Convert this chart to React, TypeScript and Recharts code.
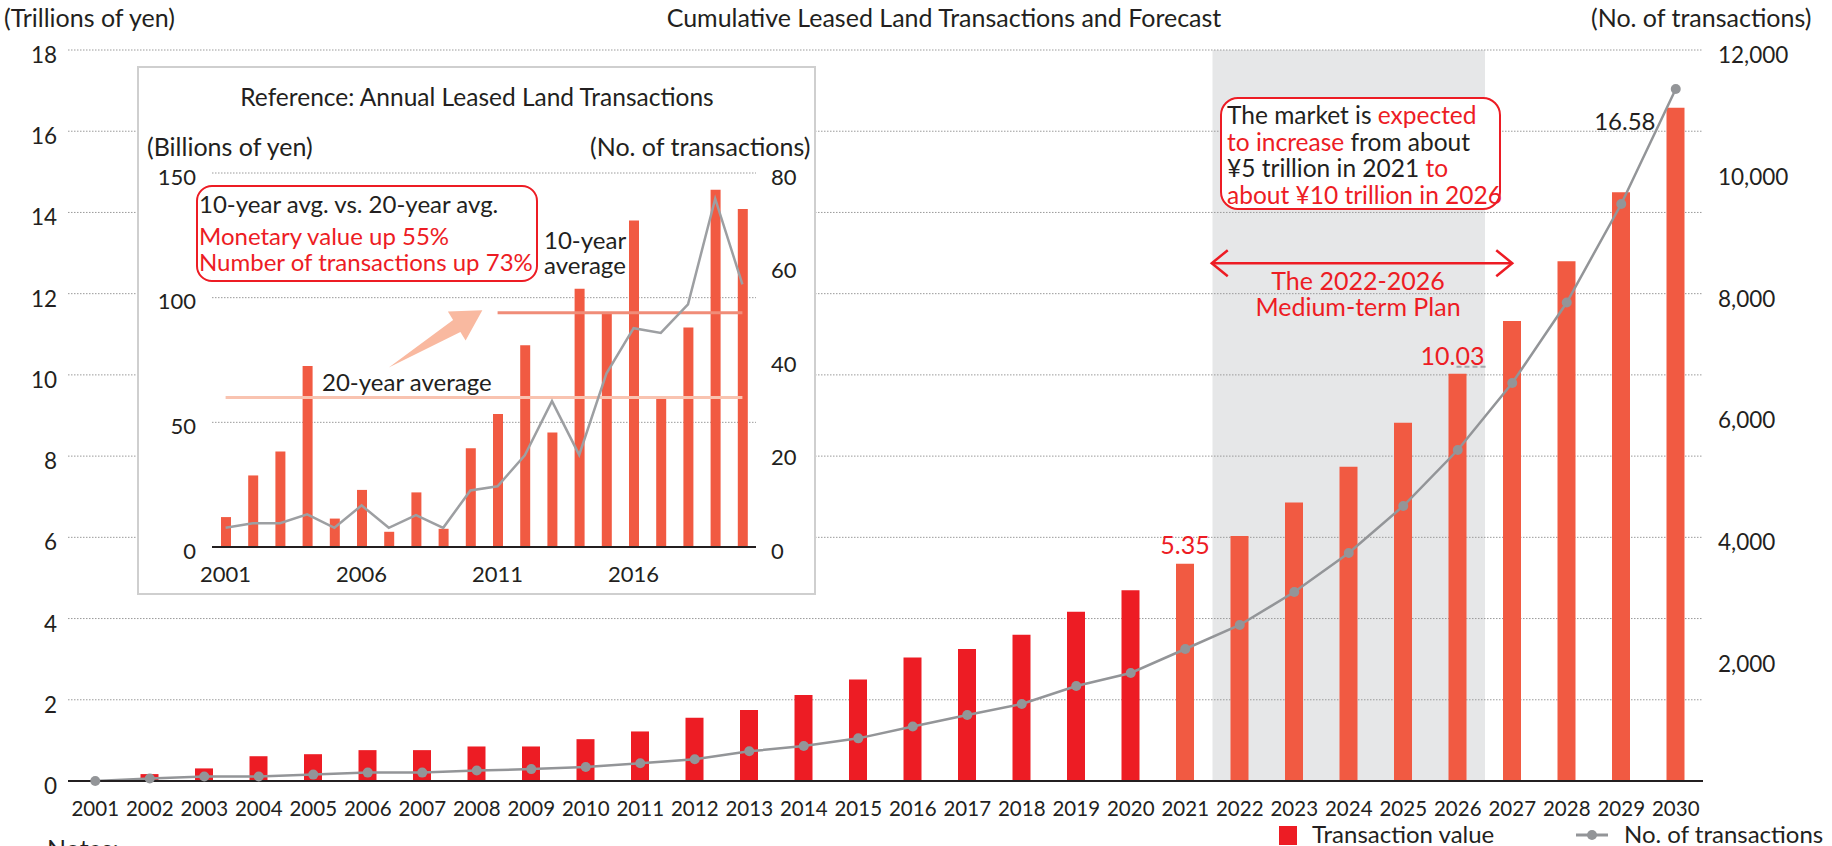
import React from "react";
import {
  ComposedChart,
  Bar,
  Line,
  XAxis,
  YAxis,
  CartesianGrid,
  ReferenceArea,
  ReferenceLine,
  Cell,
  LabelList,
} from "recharts";

// main chart: cumulative, 2001-2030 (2021 onward is forecast)
const years = [
  "2001", "2002", "2003", "2004", "2005", "2006", "2007", "2008", "2009", "2010",
  "2011", "2012", "2013", "2014", "2015", "2016", "2017", "2018", "2019", "2020",
  "2021", "2022", "2023", "2024", "2025", "2026", "2027", "2028", "2029", "2030",
];
// trillions of yen
const transactionValue = [
  0.02, 0.17, 0.31, 0.61, 0.66, 0.76, 0.76, 0.85, 0.85, 1.03,
  1.22, 1.56, 1.75, 2.12, 2.5, 3.04, 3.25, 3.6, 4.17, 4.7,
  5.35, 6.03, 6.86, 7.74, 8.82, 10.03, 11.33, 12.8, 14.5, 16.58,
];
// no. of transactions
const transactionCount = [
  0, 40, 75, 75, 105, 138, 138, 171, 195, 230,
  290, 356, 487, 575, 700, 895, 1083, 1264, 1560, 1773,
  2167, 2561, 3102, 3743, 4514, 5433, 6533, 7855, 9472, 11360,
];
const firstForecastYear = "2021";
const planStart = "2022";
const planEnd = "2026";
const labelledYears = ["2021", "2026", "2030"];

const leftTicks = [0, 2, 4, 6, 8, 10, 12, 14, 16, 18];
const rightTicks = [2000, 4000, 6000, 8000, 10000, 12000];

// inset: annual figures 2001-2020
const insetYears = [
  "2001", "2002", "2003", "2004", "2005", "2006", "2007", "2008", "2009", "2010",
  "2011", "2012", "2013", "2014", "2015", "2016", "2017", "2018", "2019", "2020",
];
// billions of yen
const insetValue = [
  12, 28.7, 38.3, 72.6, 11.4, 22.9, 6.1, 21.9, 7.3, 39.6,
  53.3, 80.9, 45.9, 103.6, 93.8, 130.9, 59.6, 88, 143.3, 135.6,
];
const insetCount = [
  4.1, 5.1, 5.1, 7.0, 4.1, 8.9, 4.1, 6.8, 4.1, 12.1,
  13, 19.6, 31.2, 19.7, 37.1, 46.8, 45.8, 51.9, 74.5, 56.2,
];
const insetTickYears = ["2001", "2006", "2011", "2016"];
const insetLeftTicks = [0, 50, 100, 150];
const insetRightTicks = [0, 20, 40, 60, 80];
const avg20 = 60;
const avg10 = 94;

const RED = "#ED1C24";
const ORANGE = "#F15A42";
const GRAY = "#939598";
const INK = "#231F20";
const FONT = "Lato, 'Open Sans', sans-serif";

const mainData = years.map((year, i) => ({
  year,
  value: transactionValue[i],
  count: transactionCount[i],
}));

const insetData = insetYears.map((year, i) => ({
  year,
  value: insetValue[i],
  count: insetCount[i],
}));

const txt = (s: React.CSSProperties): React.CSSProperties => ({
  position: "absolute",
  whiteSpace: "nowrap",
  lineHeight: 1,
  ...s,
});

const renderValueLabel = (props: any) => {
  const vb = props.viewBox || props;
  const { x, y, width } = vb;
  const year = years[props.index];
  if (!labelledYears.includes(year)) return null;
  const cx = x + width / 2;
  const v = Number(props.value).toFixed(2);
  if (year === "2030") {
    return (
      <text x={x - 11} y={y + 22} fill={INK} fontSize={24} textAnchor="end">
        {v}
      </text>
    );
  }
  if (year === "2026") {
    return (
      <g>
        <text x={cx - 5} y={y - 9} fill={RED} fontSize={25} textAnchor="middle">
          {v}
        </text>
        <line x1={cx - 1} x2={cx + 29} y1={y - 7} y2={y - 7} stroke="#A7A9AC" strokeWidth={2} strokeDasharray="5 3" />
      </g>
    );
  }
  return (
    <text x={cx} y={y - 10} fill={RED} fontSize={25} textAnchor="middle">
      {v}
    </text>
  );
};

const PlanArrow = (p: any) => {
  const { x1, y1, x2 } = p;
  const left = x1 - 28;
  const right = x2;
  const y = y1;
  return (
    <g stroke={RED} strokeWidth={2.5} fill="none">
      <line x1={left} y1={y} x2={right} y2={y} />
      <polyline points={`${left + 16},${y - 13} ${left},${y} ${left + 16},${y + 13}`} />
      <polyline points={`${right - 16},${y - 13} ${right},${y} ${right - 16},${y + 13}`} />
    </g>
  );
};

const GrowthArrow = (p: any) => {
  const { x1, y1, x2, y2 } = p;
  const dx = x2 - x1;
  const dy = y2 - y1;
  const len = Math.hypot(dx, dy) || 1;
  const ux = dx / len;
  const uy = dy / len;
  const nx = -uy;
  const ny = ux;
  const tx = x2 + ux * 14;
  const ty = y2 + uy * 14;
  const hx = tx - ux * 30;
  const hy = ty - uy * 30;
  const pts = [
    [x1, y1],
    [hx + nx * 7, hy + ny * 7],
    [hx + nx * 17, hy + ny * 17],
    [tx, ty],
    [hx - nx * 17, hy - ny * 17],
    [hx - nx * 7, hy - ny * 7],
  ]
    .map((q) => q.join(","))
    .join(" ");
  return <polygon points={pts} fill="#F9B9A0" stroke="none" />;
};

function InsetChart() {
  return (
    <div
      style={{
        position: "absolute",
        left: 137,
        top: 66,
        width: 679,
        height: 529,
        border: "2px solid #CFCFCF",
        boxSizing: "border-box",
        background: "#fff",
      }}
    >
      <ComposedChart width={675} height={525} data={insetData} margin={{ top: 105, right: 0, bottom: 0, left: 0 }}>
        <CartesianGrid vertical={false} yAxisId="v" stroke="#9A9A9A" strokeDasharray="1.5 1.5" />
        <XAxis
          dataKey="year"
          interval={0}
          height={46}
          tickLine={false}
          tickMargin={13}
          axisLine={{ stroke: INK, strokeWidth: 2 }}
          tick={{ fontSize: 22, fill: INK }}
          tickFormatter={(v) => (insetTickYears.includes(v) ? v : "")}
        />
        <YAxis
          yAxisId="v"
          domain={[0, 150]}
          ticks={insetLeftTicks}
          width={73}
          axisLine={false}
          tickLine={false}
          tickMargin={10}
          tick={{ fontSize: 22, fill: INK, dy: 4 }}
        />
        <YAxis
          yAxisId="n"
          orientation="right"
          domain={[0, 80]}
          ticks={insetRightTicks}
          width={58}
          axisLine={false}
          tickLine={false}
          tickMargin={9}
          tick={{ fontSize: 22, fill: INK, dy: 4, textAnchor: "start" }}
        />
        <Bar yAxisId="v" dataKey="value" fill={ORANGE} barSize={10} isAnimationActive={false} />
        <ReferenceLine
          yAxisId="v"
          segment={[{ x: "2001", y: avg20 }, { x: "2020", y: avg20 }]}
          stroke="#F9C3B0"
          strokeWidth={3}
        />
        <ReferenceLine
          yAxisId="v"
          segment={[{ x: "2011", y: avg10 }, { x: "2020", y: avg10 }]}
          stroke="#F08C78"
          strokeWidth={3}
        />
        <ReferenceLine
          yAxisId="v"
          segment={[{ x: "2007", y: 72 }, { x: "2010", y: 92 }]}
          shape={GrowthArrow}
        />
        <Line
          yAxisId="n"
          dataKey="count"
          stroke="#9D9FA2"
          strokeWidth={2.5}
          dot={false}
          isAnimationActive={false}
        />
      </ComposedChart>
    </div>
  );
}

export default function App() {
  return (
    <div
      style={{
        position: "absolute",
        left: 0,
        top: 0,
        width: 1832,
        height: 846,
        overflow: "hidden",
        background: "#fff",
        fontFamily: FONT,
        color: INK,
      }}
    >
      <div style={{ position: "absolute", left: 0, top: 0 }}>
        <ComposedChart width={1832} height={846} data={mainData} margin={{ top: 50, right: 0, bottom: 0, left: 0 }}>
          <ReferenceArea
            yAxisId="left"
            x1={planStart}
            x2={planEnd}
            y1={0}
            y2={18}
            fill="#E6E7E8"
            fillOpacity={1}
            stroke="none"
            zIndex={-200}
          />
          <CartesianGrid vertical={false} yAxisId="left" stroke="#9A9A9A" strokeDasharray="1.5 1.5" />
          <XAxis
            dataKey="year"
            interval={0}
            height={65}
            tickLine={false}
            tickMargin={14}
            axisLine={{ stroke: INK, strokeWidth: 2 }}
            tick={{ fontSize: 20.5, fill: INK }}
          />
          <YAxis
            yAxisId="left"
            domain={[0, 18]}
            ticks={leftTicks}
            width={68}
            axisLine={false}
            tickLine={false}
            tickMargin={5}
            tick={{ fontSize: 22.5, fill: INK, dy: 5 }}
          />
          <YAxis
            yAxisId="right"
            orientation="right"
            domain={[0, 12000]}
            ticks={rightTicks}
            width={129}
            axisLine={false}
            tickLine={false}
            tickMargin={9}
            tick={{ fontSize: 22.5, fill: INK, dy: 5 }}
            tickFormatter={(v) => Number(v).toLocaleString("en-US")}
          />
          <Bar yAxisId="left" dataKey="value" barSize={18} isAnimationActive={false}>
            {mainData.map((d) => (
              <Cell key={d.year} fill={d.year >= firstForecastYear ? ORANGE : RED} />
            ))}
            <LabelList dataKey="value" content={renderValueLabel} />
          </Bar>
          <Line
            yAxisId="right"
            dataKey="count"
            stroke={GRAY}
            strokeWidth={2.5}
            dot={{ r: 5, fill: GRAY, stroke: GRAY, strokeWidth: 0 }}
            isAnimationActive={false}
          />
          <ReferenceLine
            yAxisId="left"
            segment={[{ x: planStart, y: 12.75 }, { x: "2027", y: 12.75 }]}
            shape={PlanArrow}
          />
        </ComposedChart>
      </div>

      {/* headings */}
      <div style={txt({ left: 4, top: 5, fontSize: 25 })}>(Trillions of yen)</div>
      <div style={txt({ left: 944, top: 5, fontSize: 25, transform: "translateX(-50%)" })}>
        Cumulative Leased Land Transactions and Forecast
      </div>
      <div style={txt({ left: 1591, top: 5, fontSize: 25 })}>(No. of transactions)</div>

      {/* plan annotation */}
      <div style={txt({ left: 1358, top: 267, fontSize: 25, color: RED, transform: "translateX(-50%)", textAlign: "center", lineHeight: "26px" })}>
        The 2022-2026
        <br />
        Medium-term Plan
      </div>
      <div
        style={{
          position: "absolute",
          left: 1220,
          top: 97,
          width: 281,
          height: 113,
          border: `2.5px solid ${RED}`,
          borderRadius: 18,
          background: "#fff",
          boxSizing: "border-box",
          padding: "3px 0 0 5px",
          fontSize: 24.5,
          lineHeight: "26.5px",
          whiteSpace: "nowrap",
        }}
      >
        The market is <span style={{ color: RED }}>expected</span>
        <br />
        <span style={{ color: RED }}>to increase</span> from about
        <br />
        ¥5 trillion in 2021 <span style={{ color: RED }}>to</span>
        <br />
        <span style={{ color: RED }}>about ¥10 trillion in 2026</span>
      </div>

      <InsetChart />

      {/* inset texts */}
      <div style={txt({ left: 477, top: 85, fontSize: 24.5, transform: "translateX(-50%)" })}>
        Reference: Annual Leased Land Transactions
      </div>
      <div style={txt({ left: 147, top: 134, fontSize: 25 })}>(Billions of yen)</div>
      <div style={txt({ left: 590, top: 134, fontSize: 25 })}>(No. of transactions)</div>
      <div
        style={{
          position: "absolute",
          left: 196,
          top: 185,
          width: 342,
          height: 97,
          border: `2px solid ${RED}`,
          borderRadius: 16,
          boxSizing: "border-box",
        }}
      />
      <div style={txt({ left: 199, top: 192, fontSize: 24 })}>10-year avg. vs. 20-year avg.</div>
      <div style={txt({ left: 199, top: 225, fontSize: 24, color: RED, lineHeight: "22px" })}>Monetary value up 55%</div>
      <div style={txt({ left: 199, top: 251, fontSize: 24, color: RED, lineHeight: "22px" })}>Number of transactions up 73%</div>
      <div style={txt({ left: 544, top: 227, fontSize: 24, lineHeight: "25px" })}>
        10-year
        <br />
        average
      </div>
      <div style={txt({ left: 322, top: 370, fontSize: 24 })}>20-year average</div>

      {/* legend */}
      <div style={{ position: "absolute", left: 1279, top: 826, width: 18, height: 19, background: RED }} />
      <div style={txt({ left: 1312, top: 824, fontSize: 24, lineHeight: "20px" })}>Transaction value</div>
      <svg style={{ position: "absolute", left: 1576, top: 826 }} width={32} height={18}>
        <line x1={0} x2={32} y1={9} y2={9} stroke={GRAY} strokeWidth={3} />
        <circle cx={16} cy={9} r={5} fill={GRAY} />
      </svg>
      <div style={txt({ left: 1624, top: 824, fontSize: 24, lineHeight: "20px" })}>No. of transactions</div>

      <div style={txt({ left: 47, top: 836, fontSize: 25 })}>Notes:</div>
    </div>
  );
}
